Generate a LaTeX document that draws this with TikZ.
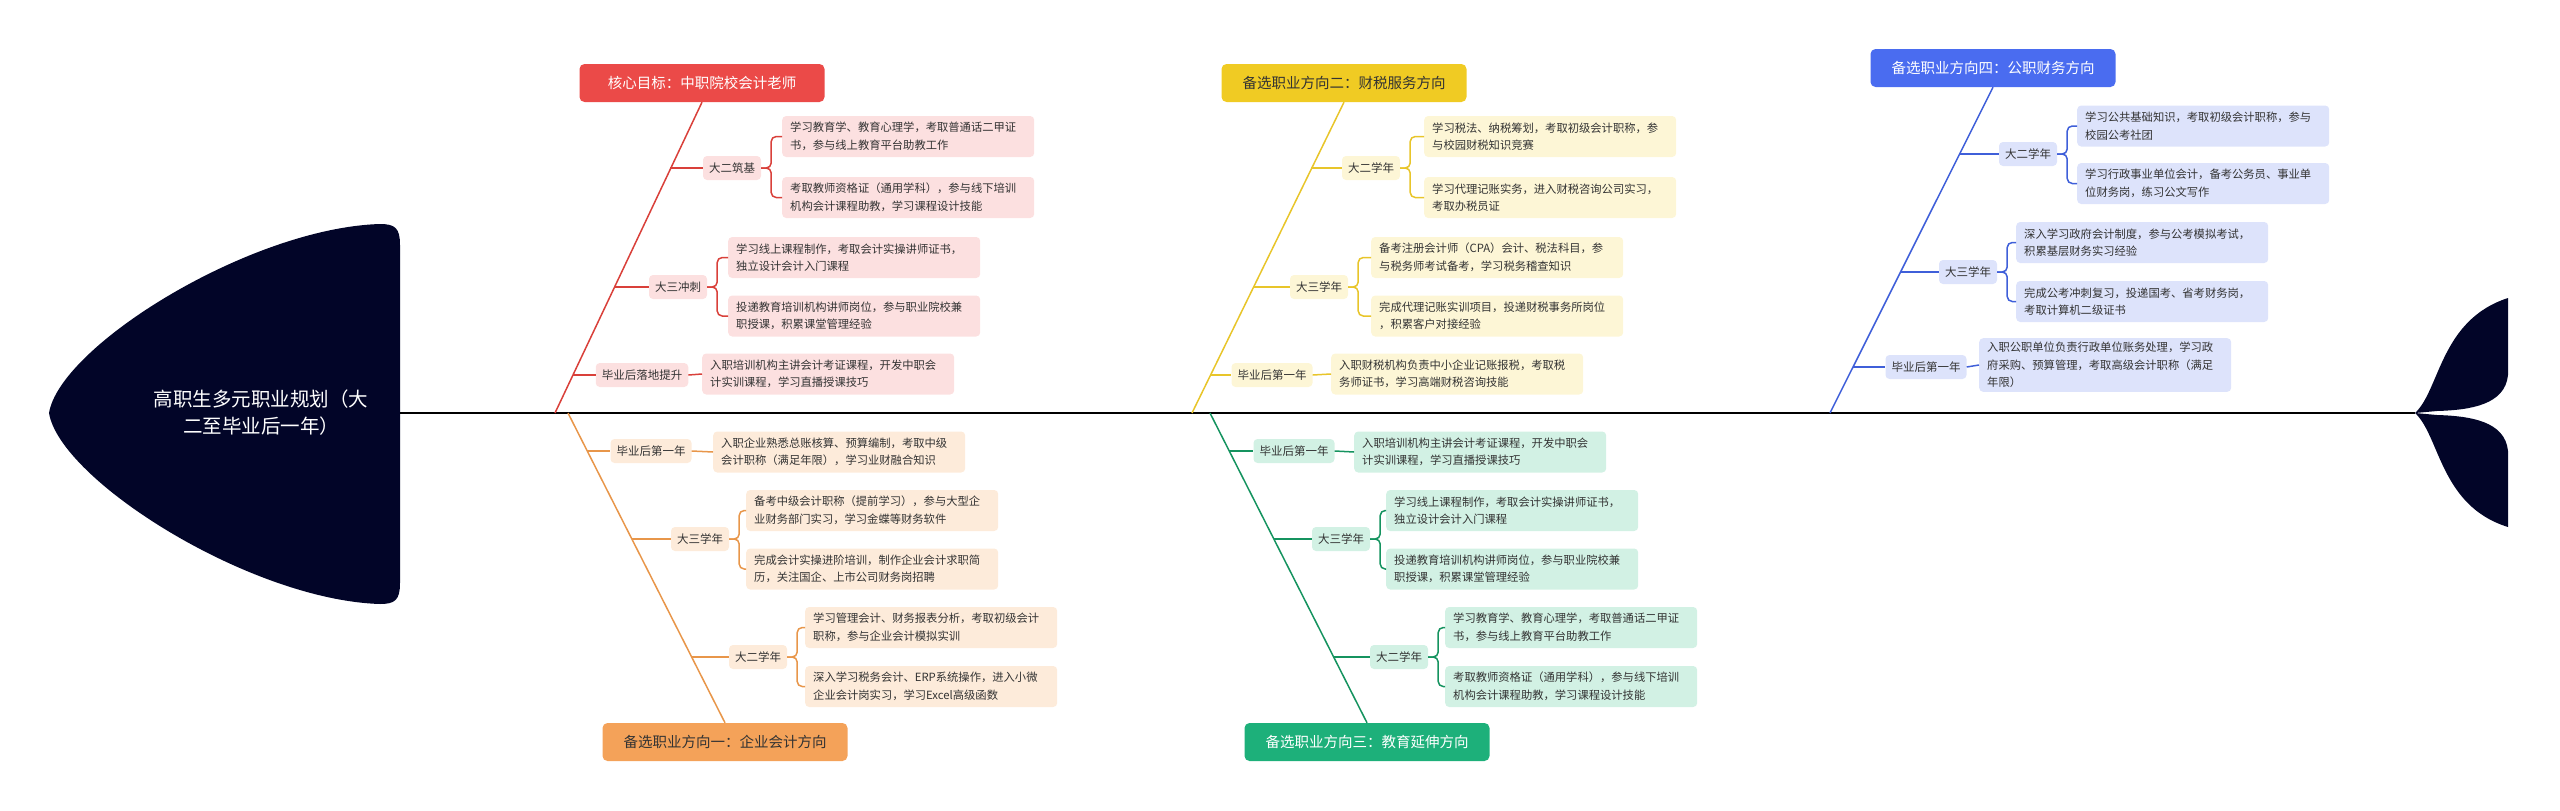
\documentclass[tikz,border=0pt]{standalone}
\usepackage{fontspec}
\setmainfont{Noto Sans CJK SC}
\definecolor{navy}{HTML}{020528}
\definecolor{rH}{HTML}{EB4A48}\definecolor{rL}{HTML}{FCE0E0}\definecolor{rC}{HTML}{D9403A}
\definecolor{yH}{HTML}{F0CB23}\definecolor{yL}{HTML}{FDF6D6}\definecolor{yC}{HTML}{E8C52A}
\definecolor{bH}{HTML}{4A6CF0}\definecolor{bL}{HTML}{DDE3FB}\definecolor{bC}{HTML}{3F5FD9}
\definecolor{oH}{HTML}{F4A259}\definecolor{oL}{HTML}{FDEBDA}\definecolor{oC}{HTML}{E8964A}
\definecolor{gH}{HTML}{1DB07A}\definecolor{gL}{HTML}{D2F1E4}\definecolor{gC}{HTML}{15935F}
\definecolor{txt}{HTML}{333333}
\begin{document}
\begin{tikzpicture}[x=1pt,y=-1pt,
  hd/.style={fill=#1,rounded corners=5pt,minimum width=245pt,minimum height=38pt,font=\fontsize{14.5}{17}\selectfont,inner sep=0pt},
  lab/.style={fill=#1,rounded corners=4pt,minimum height=24pt,inner xsep=6pt,font=\fontsize{11.5}{14}\selectfont,text=txt},
  leaf/.style={fill=#1,rounded corners=4pt,anchor=west,text width=236pt,inner xsep=8pt,inner ysep=4pt,minimum height=41pt,align=left,font=\fontsize{11.3}{17.5}\selectfont,text=txt},
  br/.style={draw=#1,line width=1.5pt,rounded corners=5pt},
  bone/.style={draw=#1,line width=1.5pt}]
\useasboundingbox (0,0) rectangle (2560,811);
% head
\fill[navy] (400,245) -- (400,583) .. controls (400,600) and (395,604) .. (380,604)
  .. controls (250,600) and (60,480) .. (49,413) .. controls (60,346) and (250,228) .. (380,224)
  .. controls (395,224) and (400,228) .. (400,245) -- cycle;
\node[text=white,align=center,font=\fontsize{19.5}{27}\selectfont] (head) at (261,413) {高职生多元职业规划（大\\二至毕业后一年）};
% tail
\coordinate (tail) at (2415,413);
\fill[navy] (tail) .. controls (2440,390) and (2440,320) .. (2508,298) -- (2508,375)
  .. controls (2505,405) and (2470,410) .. (2437,411) -- cycle;
\fill[navy] (tail) .. controls (2440,436) and (2440,506) .. (2508,527) -- (2508,451)
  .. controls (2505,421) and (2470,416) .. (2437,415) -- cycle;
\coordinate (sp) at (400,413);
\draw[line width=2pt] (sp) -- (tail);

% ===== RED =====
\node[hd=rH,text=white] (H1) at (702,83) {核心目标：中职院校会计老师};
\coordinate (R0) at (555,413);
\draw[bone=rC] (H1.south) -- (R0);
\coordinate (R1) at (670.4,168);\coordinate (R2) at (614.4,287);\coordinate (R3) at (573,375);
\node[lab=rL] (L11) at (732,168) {大二筑基};
\node[lab=rL] (L12) at (678,287) {大三冲刺};
\node[lab=rL] (L13) at (642,375) {毕业后落地提升};
\node[leaf=rL] (F111) at (782,136.5) {学习教育学、教育心理学，考取普通话二甲证\\书，参与线上教育平台助教工作};
\node[leaf=rL] (F112) at (782,197.5) {考取教师资格证（通用学科），参与线下培训\\机构会计课程助教，学习课程设计技能};
\node[leaf=rL] (F121) at (728,257.5) {学习线上课程制作，考取会计实操讲师证书，\\独立设计会计入门课程};
\node[leaf=rL] (F122) at (728,316) {投递教育培训机构讲师岗位，参与职业院校兼\\职授课，积累课堂管理经验};
\node[leaf=rL] (F131) at (702,374) {入职培训机构主讲会计考证课程，开发中职会\\计实训课程，学习直播授课技巧};
\draw[bone=rC] (R1) -- (L11.west); \draw[bone=rC] (R2) -- (L12.west); \draw[bone=rC] (R3) -- (L13.west);
\draw[br=rC] (L11.east) -- ++(10,0) |- (F111.west); \draw[br=rC] (L11.east) -- ++(10,0) |- (F112.west);
\draw[br=rC] (L12.east) -- ++(10,0) |- (F121.west); \draw[br=rC] (L12.east) -- ++(10,0) |- (F122.west);
\draw[bone=rC] (L13.east) -- (F131.west);

% ===== YELLOW =====
\node[hd=yH,text=txt] (H2) at (1344,83) {备选职业方向二：财税服务方向};
\coordinate (Y0) at (1192,413);
\draw[bone=yC] (H2.south) -- (Y0);
\coordinate (Y1) at (1311.4,168);\coordinate (Y2) at (1253.4,287);\coordinate (Y3) at (1210.5,375);
\node[lab=yL] (L21) at (1371,168) {大二学年};
\node[lab=yL] (L22) at (1319,287) {大三学年};
\node[lab=yL] (L23) at (1272,375) {毕业后第一年};
\node[leaf=yL] (F211) at (1424,136.5) {学习税法、纳税筹划，考取初级会计职称，参\\与校园财税知识竞赛};
\node[leaf=yL] (F212) at (1424,197.5) {学习代理记账实务，进入财税咨询公司实习，\\考取办税员证};
\node[leaf=yL] (F221) at (1371,257.5) {备考注册会计师（CPA）会计、税法科目，参\\与税务师考试备考，学习税务稽查知识};
\node[leaf=yL] (F222) at (1371,316) {完成代理记账实训项目，投递财税事务所岗位\\，积累客户对接经验};
\node[leaf=yL] (F231) at (1331,374) {入职财税机构负责中小企业记账报税，考取税\\务师证书，学习高端财税咨询技能};
\draw[bone=yC] (Y1) -- (L21.west); \draw[bone=yC] (Y2) -- (L22.west); \draw[bone=yC] (Y3) -- (L23.west);
\draw[br=yC] (L21.east) -- ++(10,0) |- (F211.west); \draw[br=yC] (L21.east) -- ++(10,0) |- (F212.west);
\draw[br=yC] (L22.east) -- ++(10,0) |- (F221.west); \draw[br=yC] (L22.east) -- ++(10,0) |- (F222.west);
\draw[bone=yC] (L23.east) -- (F231.west);

% ===== BLUE =====
\node[hd=bH,text=white] (H4) at (1993,68) {备选职业方向四：公职财务方向};
\coordinate (B0) at (1830,413);
\draw[bone=bC] (H4.south) -- (B0);
\coordinate (B1) at (1959.5,154);\coordinate (B2) at (1900.5,272);\coordinate (B3) at (1853,367);
\node[lab=bL] (L41) at (2028,154) {大二学年};
\node[lab=bL] (L42) at (1968,272) {大三学年};
\node[lab=bL] (L43) at (1926,367) {毕业后第一年};
\node[leaf=bL] (F411) at (2077,126) {学习公共基础知识，考取初级会计职称，参与\\校园公考社团};
\node[leaf=bL] (F412) at (2077,183.5) {学习行政事业单位会计，备考公务员、事业单\\位财务岗，练习公文写作};
\node[leaf=bL] (F421) at (2016,242.5) {深入学习政府会计制度，参与公考模拟考试，\\积累基层财务实习经验};
\node[leaf=bL] (F422) at (2016,301.5) {完成公考冲刺复习，投递国考、省考财务岗，\\考取计算机二级证书};
\node[leaf=bL] (F431) at (1979,365) {入职公职单位负责行政单位账务处理，学习政\\府采购、预算管理，考取高级会计职称（满足\\年限）};
\draw[bone=bC] (B1) -- (L41.west); \draw[bone=bC] (B2) -- (L42.west); \draw[bone=bC] (B3) -- (L43.west);
\draw[br=bC] (L41.east) -- ++(10,0) |- (F411.west); \draw[br=bC] (L41.east) -- ++(10,0) |- (F412.west);
\draw[br=bC] (L42.east) -- ++(10,0) |- (F421.west); \draw[br=bC] (L42.east) -- ++(10,0) |- (F422.west);
\draw[bone=bC] (L43.east) -- (F431.west);

% ===== ORANGE =====
\node[hd=oH,text=txt] (H3) at (725,742) {备选职业方向一：企业会计方向};
\coordinate (O0) at (568,413);
\draw[bone=oC] (O0) -- (H3.north);
\coordinate (O1) at (587.2,451);\coordinate (O2) at (631.8,539);\coordinate (O3) at (691.5,657);
\node[lab=oL] (L31) at (651,451) {毕业后第一年};
\node[lab=oL] (L32) at (700,539) {大三学年};
\node[lab=oL] (L33) at (758,657) {大二学年};
\node[leaf=oL] (F311) at (713,452) {入职企业熟悉总账核算、预算编制，考取中级\\会计职称（满足年限），学习业财融合知识};
\node[leaf=oL] (F321) at (746,510.5) {备考中级会计职称（提前学习），参与大型企\\业财务部门实习，学习金蝶等财务软件};
\node[leaf=oL] (F322) at (746,569) {完成会计实操进阶培训，制作企业会计求职简\\历，关注国企、上市公司财务岗招聘};
\node[leaf=oL] (F331) at (805,627.5) {学习管理会计、财务报表分析，考取初级会计\\职称，参与企业会计模拟实训};
\node[leaf=oL] (F332) at (805,686.5) {深入学习税务会计、ERP系统操作，进入小微\\企业会计岗实习，学习Excel高级函数};
\draw[bone=oC] (O1) -- (L31.west); \draw[bone=oC] (O2) -- (L32.west); \draw[bone=oC] (O3) -- (L33.west);
\draw[bone=oC] (L31.east) -- (F311.west);
\draw[br=oC] (L32.east) -- ++(10,0) |- (F321.west); \draw[br=oC] (L32.east) -- ++(10,0) |- (F322.west);
\draw[br=oC] (L33.east) -- ++(10,0) |- (F331.west); \draw[br=oC] (L33.east) -- ++(10,0) |- (F332.west);

% ===== GREEN =====
\node[hd=gH,text=white] (H5) at (1367,742) {备选职业方向三：教育延伸方向};
\coordinate (G0) at (1210,413);
\draw[bone=gC] (G0) -- (H5.north);
\coordinate (G1) at (1229.2,451);\coordinate (G2) at (1273.8,539);\coordinate (G3) at (1333.5,657);
\node[lab=gL] (L51) at (1294,451) {毕业后第一年};
\node[lab=gL] (L52) at (1341,539) {大三学年};
\node[lab=gL] (L53) at (1399,657) {大二学年};
\node[leaf=gL] (F511) at (1354,452) {入职培训机构主讲会计考证课程，开发中职会\\计实训课程，学习直播授课技巧};
\node[leaf=gL] (F521) at (1386,510.5) {学习线上课程制作，考取会计实操讲师证书，\\独立设计会计入门课程};
\node[leaf=gL] (F522) at (1386,569) {投递教育培训机构讲师岗位，参与职业院校兼\\职授课，积累课堂管理经验};
\node[leaf=gL] (F531) at (1445,627.5) {学习教育学、教育心理学，考取普通话二甲证\\书，参与线上教育平台助教工作};
\node[leaf=gL] (F532) at (1445,686.5) {考取教师资格证（通用学科），参与线下培训\\机构会计课程助教，学习课程设计技能};
\draw[bone=gC] (G1) -- (L51.west); \draw[bone=gC] (G2) -- (L52.west); \draw[bone=gC] (G3) -- (L53.west);
\draw[bone=gC] (L51.east) -- (F511.west);
\draw[br=gC] (L52.east) -- ++(10,0) |- (F521.west); \draw[br=gC] (L52.east) -- ++(10,0) |- (F522.west);
\draw[br=gC] (L53.east) -- ++(10,0) |- (F531.west); \draw[br=gC] (L53.east) -- ++(10,0) |- (F532.west);
\end{tikzpicture}
\end{document}
